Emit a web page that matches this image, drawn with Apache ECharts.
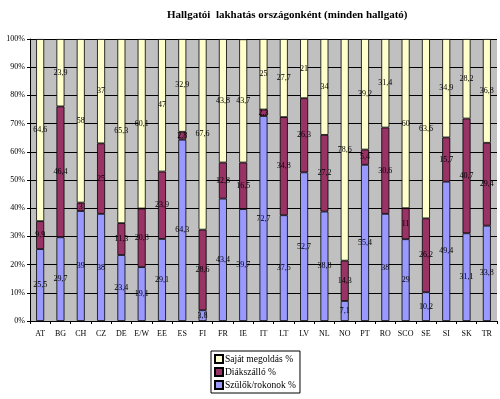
<!DOCTYPE html>
<html>
<head>
<meta charset="utf-8">
<script src="https://cdn.jsdelivr.net/npm/echarts@6/dist/echarts.min.js"></script>
<style>
html, body { margin: 0; padding: 0; background: #fff; }
#main { width: 500px; height: 399px; }
</style>
</head>
<body>
<div id="main"></div>
<script>
var countries = ['AT', 'BG', 'CH', 'CZ', 'DE', 'E/W', 'EE', 'ES', 'FI', 'FR', 'IE', 'IT', 'LT', 'LV', 'NL', 'NO', 'PT', 'RO', 'SCO', 'SE', 'SI', 'SK', 'TR'];
var szulok = [25.5, 29.7, 39, 38, 23.4, 19.1, 29.1, 64.3, 3.8, 43.4, 39.7, 72.7, 37.5, 52.7, 38.8, 7.1, 55.4, 38, 29, 10.2, 49.4, 31.1, 33.8];
var diakszallo = [9.9, 46.4, 3, 25, 11.3, 20.8, 23.9, 2.8, 28.6, 12.8, 16.5, 2.3, 34.8, 26.3, 27.2, 14.3, 5.4, 30.6, 11, 26.2, 15.7, 40.7, 29.4];
var sajat = [64.6, 23.9, 58, 37, 65.3, 60.1, 47, 32.9, 67.6, 43.8, 43.7, 25, 27.7, 21, 34, 78.6, 39.2, 31.4, 60, 63.6, 34.9, 28.2, 36.8];

var chart = echarts.init(document.getElementById('main'));
var serif = 'Liberation Serif';

function lbl() {
    return {
        show: true,
        position: 'inside',
        color: '#000',
        fontFamily: serif,
        fontSize: 8,
        formatter: function (p) { return String(p.value).replace('.', ','); }
    };
}

var option = {
    animation: false,
    title: {
        text: 'Hallgatói  lakhatás országonként (minden hallgató)',
        left: 162,
        top: 5,
        textStyle: { fontFamily: serif, fontWeight: 'bold', fontSize: 11, color: '#000' }
    },
    grid: {
        left: 30, right: 3, top: 39, bottom: 78,
        show: true, backgroundColor: '#c0c0c0', borderWidth: 0
    },
    legend: {
        orient: 'vertical',
        left: 211,
        top: 351,
        height: 42,
        data: ['Saját megoldás %', 'Diákszálló %', 'Szülők/rokonok %'],
        icon: 'rect',
        itemWidth: 8,
        itemHeight: 8,
        itemGap: 3,
        padding: [3, 4, 3, 3],
        borderColor: '#000',
        borderWidth: 1,
        textStyle: { fontFamily: serif, fontSize: 9.5, color: '#000', padding: [0, 0, 0, -3] }
    },
    xAxis: {
        type: 'category',
        data: countries,
        axisLine: { lineStyle: { color: '#000' } },
        axisTick: { show: true, length: 3, lineStyle: { color: '#000' } },
        axisLabel: { color: '#000', fontFamily: serif, fontSize: 8, margin: 9 }
    },
    yAxis: {
        type: 'value',
        min: 0,
        max: 100,
        interval: 10,
        axisLine: { show: true, lineStyle: { color: '#000' } },
        axisTick: { show: true, length: 3, lineStyle: { color: '#000' } },
        axisLabel: { formatter: '{value}%', color: '#000', fontFamily: serif, fontSize: 8, margin: 5 },
        splitLine: { lineStyle: { color: '#000', width: 1 } }
    },
    series: [
        {
            name: 'Szülők/rokonok %', type: 'bar', stack: 'a', data: szulok, barWidth: 8,
            itemStyle: { color: '#9999ff', borderColor: '#000', borderWidth: 0.8 },
            label: lbl()
        },
        {
            name: 'Diákszálló %', type: 'bar', stack: 'a', data: diakszallo, barWidth: 8,
            itemStyle: { color: '#993366', borderColor: '#000', borderWidth: 0.8 },
            label: lbl()
        },
        {
            name: 'Saját megoldás %', type: 'bar', stack: 'a', data: sajat, barWidth: 8,
            itemStyle: { color: '#ffffcc', borderColor: '#000', borderWidth: 0.8 },
            label: lbl()
        }
    ]
};
chart.setOption(option);
</script>
</body>
</html>
